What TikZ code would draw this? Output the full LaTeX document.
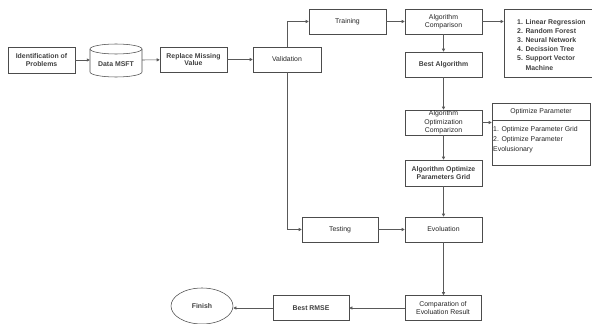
\documentclass[tikz,border=0pt]{standalone}
\usepackage{fontspec}
\setmainfont{Liberation Sans}
\usetikzlibrary{arrows.meta,shapes.geometric}
\begin{document}
\begin{tikzpicture}[x=1pt,y=-1pt,
  font=\fontsize{6.9}{7.8}\selectfont, text=black!85,
  box/.style={draw=black!70, line width=0.55pt, inner sep=0pt, align=center},
  conn/.style={draw=black!65, line width=0.55pt, -{Triangle[length=3pt,width=3pt]}},
  bf/.style={font=\fontsize{6.9}{7.8}\selectfont\bfseries, text=black!75}]
\useasboundingbox (0,0) rectangle (592,324);
% boxes
\node[box,bf,minimum width=67pt,minimum height=26pt] (idp) at (41.5,60) {Identification of\\Problems};
\node[inner sep=0pt,minimum width=52pt,minimum height=33pt] (msft) at (116,60.5) {};
\draw[draw=black!70,line width=0.55pt] (90,49) -- (90,72) arc[start angle=180,end angle=0,x radius=26,y radius=5] -- (142,49) arc[start angle=0,end angle=-180,x radius=26,y radius=5] -- cycle;
\draw[draw=black!70,line width=0.55pt] (90,49) arc[start angle=180,end angle=0,x radius=26,y radius=5];
\node[bf] (msfttxt) at (116,64.5) {Data MSFT};
\node[box,bf,minimum width=67pt,minimum height=25pt] (rmv) at (193.5,59.5) {Replace Missing\\Value};
\node[box,minimum width=68pt,minimum height=25pt] (val) at (287,59.5) {Validation};
\node[box,minimum width=77pt,minimum height=25pt] (trn) at (347.5,21.5) {Training};
\node[box,minimum width=77pt,minimum height=25pt] (acmp) at (443.5,21.5) {Algorithm\\Comparison};
\node[box,minimum width=94pt,minimum height=68pt] (lst) at (551,43) {};
\node[bf,anchor=north west,align=left,inner sep=0pt,font=\fontsize{6.9}{9.2}\selectfont\bfseries] (lsttxt) at (517,19) {1. Linear Regression\\2. Random Forest\\3. Neural Network\\4. Decission Tree\\5. Support Vector\\\phantom{5. }Machine};
\node[box,bf,minimum width=77pt,minimum height=25pt] (best) at (443.5,64.5) {Best Algorithm};
\node[box,minimum width=77pt,minimum height=25pt,font=\fontsize{6.9}{8.6}\selectfont] (aoc) at (443.5,122.5) {Algorithm\\Optimization\\Comparizon};
\node[box,minimum width=98pt,minimum height=17pt] (ophead) at (541,111.5) {Optimize Parameter};
\node[box,minimum width=98pt,minimum height=45pt] (opbody) at (541,142.5) {};
\node[anchor=north west,align=left,font=\fontsize{6.9}{10}\selectfont,inner sep=0pt] (optxt) at (493,126.5) {1. Optimize Parameter Grid\\2. Optimize Parameter\\Evolusionary};
\node[box,bf,minimum width=77pt,minimum height=26pt] (grid) at (443.5,173) {Algorithm Optimize\\Parameters Grid};
\node[box,minimum width=76pt,minimum height=25pt] (tst) at (340,229.5) {Testing};
\node[box,minimum width=77pt,minimum height=25pt] (evo) at (443.5,229.5) {Evoluation};
\node[box,minimum width=76pt,minimum height=25pt] (cmp) at (443,308) {Comparation of\\Evoluation Result};
\node[box,bf,minimum width=76pt,minimum height=25pt] (rmse) at (311,308) {Best RMSE};
\node[ellipse,draw=black!70,line width=0.55pt,bf,minimum width=62pt,minimum height=36pt,inner sep=0pt] (fin) at (202,306) {Finish};
% connectors
\draw[conn] (idp) -- (msft.west|-idp);
\draw[conn] (msft.east|-idp) -- (rmv);
\draw[conn] (rmv) -- (val);
\draw[conn] (val.north) |- (trn.west);
\draw[conn] (trn) -- (acmp);
\draw[conn] (acmp) -- (lst.west|-acmp);
\draw[conn] (acmp) -- (best);
\draw[conn] (best) -- (aoc);
\draw[conn] (aoc) -- (aoc-|opbody.west);
\draw[conn] (aoc) -- (grid);
\draw[conn] (grid) -- (evo);
\draw[conn] (val.south) |- (tst.west);
\draw[conn] (tst) -- (evo);
\draw[conn] (evo) -- (cmp.north-|evo);
\draw[conn] (cmp) -- (rmse);
\draw[conn] (rmse) -- (fin.east|-rmse);
\end{tikzpicture}
\end{document}
